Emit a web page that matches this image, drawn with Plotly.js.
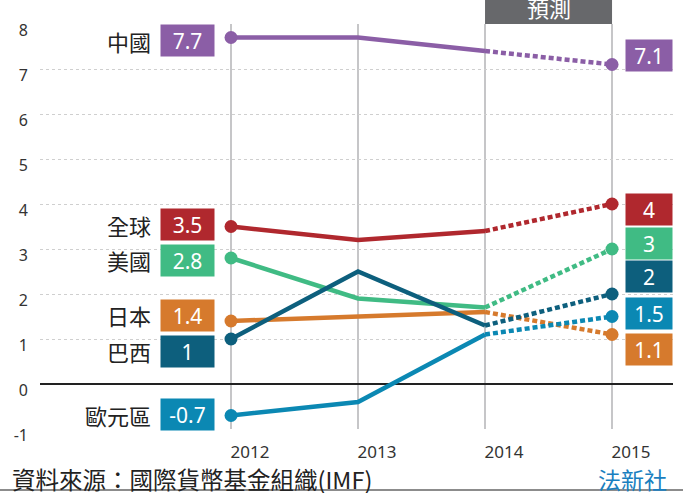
<!DOCTYPE html>
<html>
<head>
<meta charset="utf-8">
<script src="https://cdn.plot.ly/plotly-3.0.1.min.js"></script>
<style>html,body{margin:0;padding:0;background:#fff;}#chart{width:683px;height:493px;}</style>
</head>
<body>
<div id="chart"></div>
<script>
// ---- data ----
const years = [2012, 2013, 2014, 2015];
const seriesNames = ["中國", "全球", "美國", "日本", "巴西", "歐元區"];
const china    = [7.7, 7.7, 7.4, 7.1];
const world    = [3.5, 3.2, 3.4, 4];
const usa      = [2.8, 1.9, 1.7, 3];
const japan    = [1.4, 1.5, 1.6, 1.1];
const brazil   = [1, 2.5, 1.3, 2];
const eurozone = [-0.7, -0.4, 1.1, 1.5];
const yTicks = [-1, 0, 1, 2, 3, 4, 5, 6, 7, 8];
const forecastLabel = "預測";
const sourceText = "資料來源：國際貨幣基金組織(IMF)";
const creditText = "法新社";

// ---- style ----
const seriesValues = [china, world, usa, japan, brazil, eurozone];
const colors = ["#8b5ea6", "#b0282e", "#40bb84", "#d67a2d", "#0d5f7d", "#0b88b3"];
const leftShift  = [-3, 2, -2, 6, -12, 1];
const rightShift = [9, -5.5, 6, -15, 17.5, 3];
const FONT = '"Noto Sans", "Noto Sans CJK TC", sans-serif';
const CJK = '"Noto Sans CJK TC", "Noto Sans", sans-serif';

const traces = [];
const annotations = [];
const n = years.length;
seriesValues.forEach((vals, i) => {
  const c = colors[i];
  traces.push({x: years.slice(0, n - 1), y: vals.slice(0, n - 1), mode: 'lines',
    line: {color: c, width: 4.5}, hoverinfo: 'skip', showlegend: false});
  traces.push({x: years.slice(n - 2), y: vals.slice(n - 2), mode: 'lines',
    line: {color: c, width: 4.5, dash: '5px,3px'}, hoverinfo: 'skip', showlegend: false});
  traces.push({x: [years[0], years[n - 1]], y: [vals[0], vals[n - 1]], mode: 'markers',
    marker: {color: c, size: 13}, hoverinfo: 'skip', showlegend: false});
  // left value box
  annotations.push({x: years[0], y: vals[0], xref: 'x', yref: 'y', xanchor: 'right', yanchor: 'middle',
    xshift: -16, yshift: leftShift[i], text: String(vals[0]), showarrow: false,
    bgcolor: c, width: 53, height: 31, borderpad: 0, align: 'center', valign: 'middle',
    font: {family: FONT, size: 21, color: '#fff'}});
  // name
  annotations.push({x: years[0], y: vals[0], xref: 'x', yref: 'y', xanchor: 'right', yanchor: 'middle',
    xshift: -78, yshift: leftShift[i], text: seriesNames[i], showarrow: false,
    font: {family: CJK, size: 22, color: '#222'}});
  // right value box
  annotations.push({x: years[n - 1], y: vals[n - 1], xref: 'x', yref: 'y', xanchor: 'left', yanchor: 'middle',
    xshift: 13, yshift: rightShift[i], text: String(vals[n - 1]), showarrow: false,
    bgcolor: c, width: 46, height: 31, borderpad: 0, align: 'center', valign: 'middle',
    font: {family: FONT, size: 21, color: '#fff'}});
});

annotations.push({x: (years[2] + years[3]) / 2, y: 1.042, xref: 'x', yref: 'paper', xanchor: 'center', yanchor: 'middle',
  text: forecastLabel, showarrow: false, font: {family: CJK, size: 22, color: '#fff'}});
annotations.push({x: -0.0474, y: -0.123, xref: 'paper', yref: 'paper', xanchor: 'left', yanchor: 'middle',
  text: sourceText, showarrow: false, font: {family: CJK, size: 23.5, color: '#222'}});
annotations.push({x: 0.9937, y: -0.123, xref: 'paper', yref: 'paper', xanchor: 'right', yanchor: 'middle',
  text: creditText, showarrow: false, font: {family: CJK, size: 23, color: '#1a7fc0'}});

const layout = {
  width: 683, height: 493,
  margin: {l: 40, r: 10, t: 24, b: 64},
  paper_bgcolor: '#fff', plot_bgcolor: '#fff',
  showlegend: false,
  font: {family: FONT, color: '#333'},
  xaxis: {range: [2010.496, 2015.48], tickvals: years, ticktext: years.map(String),
    showgrid: true, gridcolor: '#c6c6c8', gridwidth: 1.5, zeroline: false, showline: false,
    ticks: '', ticklabelstandoff: 11, ticklabelshift: 19,
    tickfont: {family: FONT, size: 17, color: '#333'}, fixedrange: true},
  yaxis: {range: [-1, 8], tickvals: yTicks, ticktext: yTicks.map(String),
    showgrid: true, gridcolor: '#cfcfcf', gridwidth: 1, griddash: '3px,3px',
    zeroline: true, zerolinecolor: '#222', zerolinewidth: 2.5, showline: false,
    ticks: '', ticklabelstandoff: 11, ticklabelshift: 6,
    tickfont: {family: FONT, size: 16, color: '#333'}, fixedrange: true},
  shapes: [
    {type: 'rect', xref: 'x', yref: 'paper', x0: years[2], x1: years[3], y0: 1, y1: 1.1,
      fillcolor: '#67686b', line: {width: 0}, layer: 'above'},
    {type: 'line', xref: 'paper', yref: 'paper', x0: -0.0632, x1: 1.0158, y0: -0.1506, y1: -0.1506,
      line: {color: '#666', width: 1.5}}
  ],
  annotations: annotations
};

Plotly.newPlot('chart', traces, layout, {displayModeBar: false, staticPlot: true});
</script>
</body>
</html>
